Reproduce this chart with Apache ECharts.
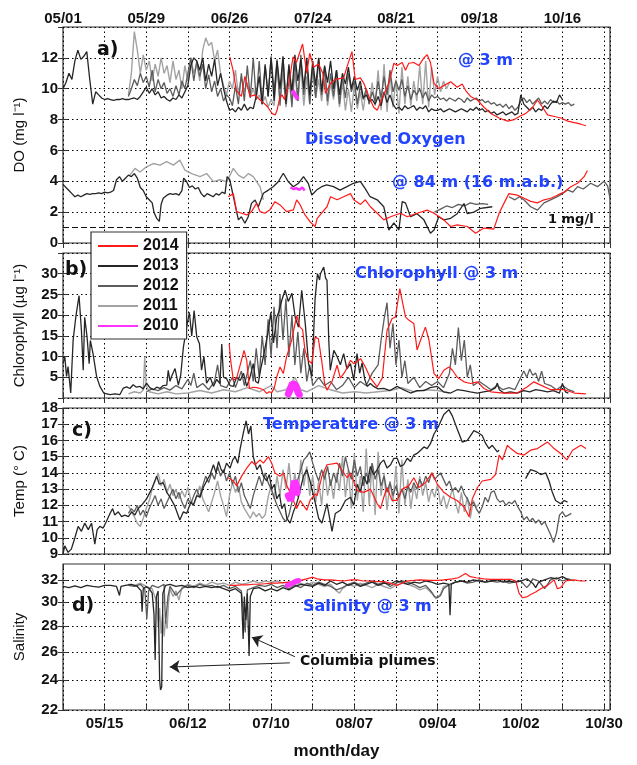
<!DOCTYPE html>
<html><head><meta charset="utf-8">
<script src="https://cdn.jsdelivr.net/npm/echarts@6/dist/echarts.min.js"></script>
<style>html,body{margin:0;padding:0;background:#fff}#c{width:637px;height:765px}</style>
</head><body><div id="c"></div>
<script>
// ---------- tick labels (x = days since May 1) ----------
const topTickDays = [0, 28, 56, 84, 112, 140, 168];
const topTickLabels = ['05/01','05/29','06/26','07/24','08/21','09/18','10/16'];
const bottomTickDays = [14, 42, 70, 98, 126, 154, 182];
const bottomTickLabels = ['05/15','06/12','07/10','08/07','09/04','10/02','10/30'];
const salinityTicks = [22, 24, 26, 28, 30, 32];
const years = ['2014','2013','2012','2011','2010'];

// ---------- a) DO @ 3 m ----------
const do3_2013_start = 0;
const do3_2013 = [10.0,10.4,11.0,10.6,11.8,12.5,11.9,12.1,12.4,10.6,9.0,9.8,9.6,9.4,
 9.3,9.35,9.3,9.25,9.3,9.3,9.35,9.3,9.3,9.35,9.4,9.3,9.5,9.8,
 10.1,9.7,10.0,9.6,9.8,9.4,9.5,9.3,9.2,9.4,9.3,9.6,9.4,9.8,
 10.2,11.5,12.0,11.8,11.2,12.0,10.5,11.6,10.8,11.9,10.2,11.0,10.0,9.2,
 8.6,8.7,8.5,8.8,8.6,9.0,8.6,8.8,8.7,9.5,10.8,9.0,11.5,9.5,
 12.0,9.2,11.8,10.0,12.1,9.0,11.5,9.8,12.2,10.5,11.9,10.0,12.0,9.6,
 11.8,10.2,12.0,9.8,11.5,10.4,11.8,10.0,11.2,9.6,11.0,10.3,11.4,10.0,
 10.8,9.9,10.5,9.4,9.6,9.2,9.3,9.0,9.5,8.9,9.8,9.1,9.6,9.0,
 8.7,8.8,8.6,8.9,8.7,8.8,8.9,8.6,8.8,8.7,8.9,8.5,8.7,8.6,
 8.6,8.7,8.5,8.6,8.7,8.6,8.5,8.6,8.7,8.6,8.5,8.7,8.6,8.8,
 8.6,8.7,8.5,8.6,8.4,8.5,8.3,8.4,8.5,8.3,8.4,8.5,8.3,8.4,
 9.6,9.0,8.8,8.6,8.8,8.5,8.7,8.6,8.9,8.7,9.0,9.2,9.1,9.6,9.3];
const do3_2012_start = 22;
const do3_2012 = [9.5,10.0,10.6,10.2,11.0,10.4,10.8,10.1,11.2,9.8,10.6,10.0,10.4,9.7,
 10.0,9.5,10.2,9.6,10.5,10.0,11.0,12.0,10.5,11.8,10.8,11.6,10.0,10.9,
 9.8,10.5,9.5,10.0,9.2,9.6,9.4,8.9,10.2,9.0,11.0,9.2,11.5,9.4,
 12.0,9.3,11.8,9.0,11.6,9.5,12.1,9.8,11.9,8.9,12.0,9.2,11.6,8.8,
 11.9,9.2,12.2,9.6,11.8,9.0,11.5,9.4,11.9,9.6,11.4,9.2,11.0,9.5,
 11.2,9.0,10.8,9.4,11.0,9.8,10.5,9.0,10.2,9.3,10.0,9.0,9.8,9.2,
 10.5,9.4,10.8,9.6,11.2,9.8,10.5,9.9,10.6,9.5,10.2,9.3,9.9,9.6,
 10.0,9.4,9.8,9.2,9.6,9.4,9.5,9.3,9.4,9.2,9.4,9.3,9.2,9.4,
 9.3,9.1,9.4,9.2,9.3,9.4,9.2,9.3,9.1,9.2,9.0,9.1,8.9,9.0,
 8.8,9.0,8.7,8.9,8.6,8.8,9.2,9.4,9.1,9.3,9.0,9.2,9.4,9.0,
 9.2,9.0,9.3,9.1,9.2,9.0,9.1,9.0,9.1,8.9,9.0];
const do3_2011_start = 22;
const do3_2011 = [9.6,11.0,13.7,12.5,11.0,12.2,11.2,11.8,10.5,11.6,10.8,12.0,11.0,11.5,
 10.4,11.8,10.6,11.2,10.0,11.5,10.5,12.0,11.0,11.6,10.5,12.5,13.3,12.8,
 13.0,11.8,12.5,11.0,10.2,9.6,10.5,10.0,11.2,9.6,10.8,9.8,10.4,9.5,
 10.0,9.3,9.6,9.0,9.5,8.8,9.3,8.9,11.5,9.2,11.0,8.8,10.5,9.0,
 11.0,9.2,11.5,8.9,10.8,9.0,11.2,9.4,10.6,9.2,10.9,8.9,10.4,9.3,
 10.8,8.8,10.5,8.6,10.0,8.5,10.2,8.7,9.8,8.6,10.0,9.0,10.4,8.9,
 11.2,8.6,11.6,8.5,11.0,8.8,10.6,8.4,11.4,9.0,10.8,8.9,10.5,9.2,
 11.5,9.0,11.8,8.8,11.4,9.6,10.8,9.8,10.5,10.0,10.4];
const do3_2014 = [[56.1,12.07],[57.2,11.2],[58.3,9.9],[60,9.5],[61.2,10.8],[62.9,9.5],[64.6,9.6],[66.3,9.27],[67.4,9.1],[68.8,8.83],[70.3,8.4],[71.4,8.3],[72,8.6],[72.9,9.4],[73.7,9.6],[74.5,9.3],[76,10.35],[77.4,12.07],[78.5,11.7],[80.6,12.9],[82,11.0],[83,12.3],[84.3,11.4],[86,11.6],[87.4,11.0],[88.3,9.7],[90,10.35],[91.6,10.6],[94.4,10.7],[95.5,11.4],[97.2,12.4],[98.3,10.6],[100,10.7],[101.2,10.35],[102.9,9.5],[104.5,8.8],[105.7,8.6],[107.4,9.4],[109.6,10.35],[111.3,11.65],[112.4,11.5],[114.1,11.7],[115.2,11.2],[116.3,11.65],[118,11.7],[119.7,11.5],[121.4,12.0],[122.5,12.2],[123.6,11.7],[124.8,10.35],[126.4,10.0],[128.1,10.2],[130.4,10.45],[132.6,10.1],[134.3,10.3],[135.4,9.9],[137.1,9.5],[139.4,9.27],[141.6,8.8],[143.9,8.4],[146.7,8.1],[149.5,7.9],[151.8,8.0],[154,8.25],[155.7,8.4],[158,8.8],[159.6,9.27],[161.3,8.8],[163,8.3],[165.3,8.2],[167.5,8.1],[169.8,7.9],[174.2,7.7],[175.9,7.6]];
const do3_2010 = [[77.2,9.9],[77.8,9.7],[78.4,9.6],[79,9.3]];

// ---------- a) DO @ 84 m ----------
const do84_2013 = [[0,3.8],[1,3.6],[2,3.4],[3,3.2],[4,3.0],[5,3.1],[6,3.0],[7,3.1],[8,3.2],[9,3.15],[10,3.2],[11,3.2],[12,3.25],[13,3.2],[14,3.3],[15,3.25],[16,3.3],[17,3.4],[18,4.1],[19,4.3],[20,4.0],[21,4.2],[22,4.4],[23,4.3],[24,4.5],[25,4.2],[26,3.6],[27,3.4],[28,3.0],[29,2.8],[30,2.6],[30.6,2.0],[31.5,1.6],[32.4,1.4],[33,2.5],[33.7,2.9],[35,3.1],[36,3.2],[37,3.15],[38,3.2],[39,3.1],[40,3.4],[40.6,4.2],[41.5,4.0],[42.5,3.6],[43.5,3.7],[44.5,3.5],[45.5,3.6],[46.5,3.2],[47.5,3.0],[48.5,3.2],[49.5,3.1],[50.5,3.0],[51.5,3.2],[52.5,3.1],[53.5,3.3],[54.5,3.2],[55.2,4.3],[56.1,4.1],[57.8,2.57],[59,1.5],[60,1.7],[61.2,1.28],[62.3,1.7],[63.4,2.57],[64.6,2.79],[65.7,2.35],[67.4,3.22],[69.1,3.43],[70.7,3.65],[72.4,3.97],[74.1,4.52],[75.8,3.97],[77.5,3.65],[79.2,3.87],[80.9,4.3],[82.5,3.87],[83.7,3.11],[85.3,3.43],[87,3.65],[88.7,3.76],[91,3.65],[93.2,3.43],[95.5,3.65],[97.7,3.87],[100,4.0],[101.6,3.54],[103.3,3.0],[105.7,2.8],[107.9,2.35],[109.6,0.84],[111.3,1.3],[113,0.84],[114.1,2.68],[115.2,2.6],[116.9,1.7],[119.1,1.9],[121.4,1.5],[123.6,0.63],[124.8,0.84],[126.4,1.7],[128.1,1.5],[130.4,1.6],[132.6,1.9],[134.9,2.56],[136,1.9],[138.2,2.0],[140.5,2.25],[142.5,2.3],[144.4,2.35]];
const do84_2012a = [[125,2.0],[127,2.2],[129,2.4],[131,2.3],[133,2.5],[135,2.4],[137,2.6],[139,2.5],[141,2.55],[143,2.5]];
const do84_2012b = [[150,3.0],[152,2.8],[153.5,3.0],[155.1,2.79],[157.3,2.35],[159.6,2.13],[161.8,2.6],[164,2.8],[166.3,3.0],[168,3.2],[169.7,3.44],[171.5,3.3],[173.1,3.65],[175,3.5],[177.5,3.87],[179.8,3.65],[182,4.0],[183.2,3.7],[184,2.9]];
const do84_2011 = [[22.5,4.4],[24.2,4.84],[25.9,4.6],[28.1,4.94],[30.4,5.15],[32.6,5.05],[34.9,5.27],[37.1,5.05],[39.3,5.37],[41,4.73],[43.3,4.5],[46.1,4.3],[48.3,4.5],[50.6,3.98],[52.8,4.1],[55.1,3.98],[57.3,4.84],[59,4.4],[60.7,4.2],[62.4,4.5],[64,4.3],[66.3,3.64],[67.4,2.8]];
const do84_2014 = [[55.6,3.0],[57.3,3.2],[58.4,2.03],[60.1,1.93],[61.8,1.82],[63.4,2.03],[65.1,2.57],[66.3,2.03],[67.9,1.93],[69.6,2.15],[71.3,2.68],[73,2.47],[75.2,2.03],[77.5,2.15],[78.6,2.79],[79.7,2.5],[81.4,1.82],[83.1,1.38],[84.8,1.06],[85.5,1.6],[88.8,2.35],[90,3.0],[92.2,2.8],[94.4,3.0],[96.7,3.2],[97.8,2.8],[100.1,2.5],[101.7,2.8],[103.4,2.35],[105.7,1.93],[107.9,1.5],[110.2,1.7],[113.5,1.93],[115.8,1.7],[119.1,1.93],[122.5,2.13],[124.8,1.93],[128.1,1.5],[130.4,1.07],[132.6,1.18],[136,1.07],[138.8,0.63],[141.6,0.97],[144.9,0.9],[146.7,1.93],[148.4,2.6],[150,3.2],[152.8,3.1],[155.1,2.9],[157.3,2.7],[159.6,2.6],[161.8,2.8],[164.1,2.9],[166.3,3.1],[168.6,3.3],[170.8,3.65],[173.1,3.87],[175.3,4.3],[176.4,4.7]];
const do84_2010 = [[76.5,3.6],[77.5,3.5],[78.5,3.55],[79.5,3.45],[80.5,3.6],[81.3,3.4]];
const oneMgLine = 1;

// ---------- b) Chlorophyll @ 3 m ----------
const chl_2013 = [[0,8.3],[0.6,10],[1.2,5.2],[1.7,7.6],[2.6,1.2],[3.4,13.9],[4.3,19.5],[5.4,24.7],[6.2,16.3],[6.8,6.7],[7.3,19.5],[8.1,14.7],[8.8,8.3],[9.2,13.9],[10.1,10.7],[11.3,5.2],[12.4,2.8],[13.7,1.2],[15.8,0.8],[17.5,1.0],[19.1,0.8],[20.3,2.4],[21.4,2.7],[22.5,2.3],[23.6,3.2],[24.7,2.6],[25.9,2.8],[27,2.2],[28.1,3.6],[29.2,2.5],[30.4,2.0],[31.5,2.6],[32.6,2.3],[33.7,3.0],[34.9,3.1],[35.4,6.7],[36,4.0],[36.5,5.2],[37.7,7.1],[38.8,3.1],[39.6,5.5],[40.5,12.3],[41.6,17.1],[42.5,20.7],[43.3,15],[44.1,21.1],[45,14.7],[45.9,13.1],[46.6,6.7],[47.4,10],[48.3,3.6],[49.5,5],[50.6,2.8],[51.7,4.5],[52.8,3.5],[53.4,13],[54,5],[55.1,4.6],[56.2,3],[57.3,2.8],[58.4,5],[59.6,4.2],[60.7,6],[61.8,2.8],[62.9,5],[64,8.3],[64.8,4],[65.7,3.6],[66.5,7],[67.4,10],[68.2,13],[69.1,16.3],[69.9,20.7],[70.8,13.3],[71.9,19.5],[72.7,21],[73.6,23.6],[74.7,26],[75.8,23.3],[77,25.3],[78.1,19.5],[79.2,17.1],[80.3,26],[81.5,17.9],[82.6,8.3],[83.7,5.2],[84.8,24],[85.6,30],[86.3,28.5],[86.6,30],[87.7,31.6],[88.3,29],[88.8,28.4],[89.4,13.9],[89.9,6.7],[91.1,11.5],[92.2,10],[93.3,8],[94.4,10.7],[95.5,7],[96.7,8.3],[97.8,4.3],[98.9,10.7],[99.8,6],[100.6,8.5],[101.5,4.5],[102.3,2.8],[103.4,3.5],[104.5,2.8],[106,2.2],[107.9,2.3],[110,1.8],[112.4,2.8],[114.5,2],[116.9,1.2],[119,1.8],[121.4,1.8],[123.5,2.5],[125.9,2.8],[128,1.5],[130.4,1.2],[132.6,2],[134.9,1.8],[137,1.5],[139.4,1.2],[141.5,1.5],[143.9,1.8],[145.5,2.5],[146.1,3.6],[146.8,2],[148.3,1.2],[150.5,1.5],[152.8,1.2],[155,1.8],[157,1.5],[159,2],[161,1.8],[163,1.5],[165,1.8],[167,1.2],[168,3.5],[169,1.5],[170,1.2]];
const chl_2012 = [[28,1.5],[30,2.2],[32,1.8],[34,2.5],[36,1.9],[38,3],[40,2.2],[42,4.5],[43,3],[44,6],[45,2.5],[47,3.5],[49,2],[51,4],[52,8],[53,3],[55,2.5],[57,5],[58,2.5],[60,6.5],[61,3],[63,9],[64,4],[65,12],[66,5],[67,15],[68,8],[69,19],[70,10],[71,22],[72,12],[73,25],[74,14],[75,24],[76,10],[77,20],[78,8],[79,16],[80,6],[81,12],[82,4],[83,8],[84,3],[86,5],[88,3],[90,4],[92,2],[94,3],[96,5],[98,2.5],[100,4],[102,3],[104,6],[106,8],[107,14],[108,19],[109,23],[110,12],[111,18],[112,8],[113,14],[114,5],[115,9],[116,3.5],[118,5],[120,2.5],[122,4],[124,3],[126,4],[128,2.5],[130,6],[131,12],[132,8],[133,17],[134,9],[135,14],[136,5],[137,8],[138,3],[140,4],[142,3],[144,2],[146,3],[148,2],[150,2.5],[152,2],[154,5],[155,6.5],[156,5],[157,7],[158,5.5],[159,6],[160,4],[161,6.5],[162,3.5],[164,3],[166,2],[168,3],[170,2],[172,1.5]];
const chl_2011 = [[22,1],[24,1.5],[26,1.2],[27,2],[27.5,10],[28,3],[29,1.5],[32,1],[35,1.5],[38,1],[42,1.2],[46,1.8],[50,1.2],[54,2],[58,1.5],[62,2.5],[66,1.5],[70,3],[72,1.5],[75,2],[78,5],[80,2],[82,1.5],[86,3],[90,2],[94,1.2],[98,1.5],[102,1.2],[106,1.5],[110,1.8],[114,2.5],[118,1.5],[122,2],[126,1.8],[130,1.2]];
const chl_2014 = [[55.9,13.1],[56.4,9.1],[57.3,4.3],[58.4,4.8],[59.5,7.7],[60.9,11.5],[61.8,9.1],[62.7,2.3],[64,2.6],[65.2,2.5],[66.3,2.3],[67.4,2.0],[68.5,1.1],[69.3,1.5],[70.2,1.3],[71.1,2.5],[71.9,5.1],[73,7.5],[74.1,5.9],[75.2,9.9],[76.9,13.9],[78.6,19.9],[79.7,17.1],[80.6,16.5],[81.4,11.5],[82.5,9.1],[83.7,8.3],[84.8,14.7],[85.9,14.3],[87,9.1],[88,3.5],[88.8,1.9],[90.5,4],[92.2,7.9],[93.3,4.8],[95,6.5],[96.7,9.1],[97.8,8.3],[99,8.8],[100.1,9.5],[101.7,7.5],[103.4,4.8],[105.7,2.7],[107.4,4.8],[109,16.3],[110.7,19.2],[111.8,19.5],[113.3,26.4],[114.1,23.5],[115.2,19.6],[116.3,18.8],[118,18],[119.1,11.6],[120.3,14],[121.9,17.1],[123.1,14],[124.8,5.9],[126.4,4.7],[128.1,6.7],[129.8,7.5],[131,6.7],[132.6,5],[134.9,3.9],[137.1,3.5],[139.4,3.9],[141.6,2.3],[143.9,1.5],[148.4,1.2],[152.8,1.2],[156.2,2.7],[158.4,3.9],[160.7,3.1],[164.1,2.0],[168.6,2.0],[172,1.2],[175.9,1.0]];
const chl_2010 = [[75.8,1],[76.5,2.2],[77.2,3.6],[77.8,4],[78.3,3],[79,1.5],[79.5,0.8]];

// ---------- c) Temperature @ 3 m ----------
const temp_2013 = [[0,9.0],[0.6,9.5],[1.7,9.1],[2.8,9.3],[4,10.0],[5.1,10.7],[6.2,10.4],[7.3,10.9],[8.5,10.5],[9.6,10.9],[10.7,9.6],[11.5,10.5],[12.4,10.7],[13.5,10.6],[14.6,11.0],[15.8,11.5],[16.7,11.8],[17.4,11.4],[18.6,11.6],[19.7,11.3],[20.8,11.4],[22,11.3],[23.1,11.6],[24.2,11.4],[25.3,11.8],[26.4,12.0],[28.1,12.4],[29.8,13.0],[31.5,13.8],[32.4,13.3],[33.7,13.4],[34.9,12.8],[36,12.5],[37.5,12.0],[39.3,11.1],[40.5,11.6],[41.6,11.5],[43,12.2],[43.8,12.0],[45,12.6],[46.1,12.5],[47.2,13.1],[48.3,13.5],[49.5,13.9],[50.6,14.5],[51.5,14.0],[52.3,14.7],[53.2,14.2],[54,14.0],[55,14.6],[56.2,14.3],[57.1,14.8],[57.9,15.0],[58.8,14.6],[59.6,15.5],[60.7,16.5],[61.6,17.2],[62.4,16.4],[63.2,16.9],[64,15.0],[65.2,14.2],[66.3,14.5],[67.4,13.8],[68.5,13.5],[69.4,13.9],[70.2,13.0],[71.1,13.3],[71.9,12.4],[72.8,12.7],[73.6,11.8],[74.5,12.1],[75.3,11.2],[76.4,10.9],[77.5,11.6],[78.4,12.0],[79.2,12.5],[80.1,13.2],[80.9,13.8],[82,14.2],[83.1,13.5],[84,12.8],[84.8,12.2],[86,11.2],[87.1,10.9],[88.8,12.1],[90.5,10.4],[91.6,11.5],[93.3,11.7],[95,12.3],[96.7,12.5],[97.8,12.0],[99,13.3],[100,12.8],[101.2,13.8],[102.3,13.3],[103.4,14.4],[104.5,13.9],[105.7,14.2],[106.8,14.6],[107.9,14.8],[109,14.3],[110.2,14.5],[111.3,14.9],[112.4,14.9],[113.5,14.4],[114.6,14.5],[115.8,14.9],[116.9,14.7],[118,15.1],[119.1,15.2],[120.3,15.4],[121.4,15.6],[122.5,15.5],[123.6,15.8],[124.8,16.4],[126.4,16.9],[128.1,17.6],[129.8,17.9],[131,17.5],[132.6,16.7],[134.3,15.9],[136,16.0],[137.1,16.3],[138.2,16.6],[139.4,16.5],[141,16.3],[142.2,15.8],[143.3,15.5],[144.4,15.7],[146.1,15.3],[146.7,15.4]];
const temp_2013b = [[155.6,13.65],[157.3,14.2],[159,14.1],[160.7,13.9],[162.4,14.0],[163.5,13.5],[164.6,12.8],[165.7,12.3],[167.4,12.1],[168.6,12.3],[169.7,12.2]];
const temp_2012_start = 22;
const temp_2012 = [11.5,11.8,11.6,12.0,11.4,11.7,11.3,11.8,12.2,12.6,12.0,12.4,11.8,12.2,
 12.6,13.0,12.4,12.8,12.2,11.8,12.4,12.1,12.6,13.0,12.5,13.2,13.8,13.4,
 14.0,13.6,14.4,13.8,14.2,13.5,14.0,13.3,13.8,12.8,13.4,12.6,12.2,11.8,
 12.6,13.2,13.8,13.2,14.0,13.4,13.0,12.5,12.0,11.6,11.2,11.0,11.4,12.2,
 12.8,13.6,14.2,14.8,15.0,15.3,14.6,14.0,13.5,14.2,13.6,14.4,13.2,14.0,
 13.4,14.6,13.8,15.0,14.2,13.6,14.8,13.8,14.4,13.2,14.0,13.4,14.6,13.6,
 14.2,13.2,13.8,12.8,13.4,12.6,13.2,12.5,13.0,12.4,13.2,12.8,13.4,13.0,
 13.6,13.2,13.8,13.4,14.0,13.6,13.8,14.0,13.6,13.2,13.5,12.9,13.1,12.8,
 13.2,12.7,12.4,12.0,12.2,11.8,11.5,11.9,12.5,12.2,12.8,12.9,12.4,12.2,
 12.3,12.0,12.2,12.1,12.3,11.9,11.6,11.1,11.3,11.0,11.2,10.9,11.1,10.8,
 11.0,10.6,10.2,9.7,10.3,11.4,11.6,11.3,11.4,11.5];
const temp_2011_start = 22;
const temp_2011 = [12.0,11.6,11.3,10.9,10.7,11.2,11.8,12.3,13.0,13.5,14.0,13.2,13.6,12.8,
 13.3,12.6,13.0,12.4,12.9,12.5,13.1,12.3,12.0,12.6,13.2,12.4,12.0,11.6,
 12.2,12.8,13.5,12.6,12.0,11.3,12.6,13.4,12.8,13.2,12.2,11.8,11.5,11.2,
 11.6,11.3,11.5,11.2,11.4,12.5,13.2,12.4,13.8,12.6,14.2,13.0,14.6,12.8,
 14.0,12.5,14.8,13.2,14.4,12.6,13.8,12.2,13.5,12.0,14.2,12.6,13.6,12.4,
 14.0,12.9,15.0,12.5,14.2,11.8,15.2,12.3,13.8,11.6,15.5,12.0,14.6,11.4,
 15.3,12.6,14.0,11.7,13.5,12.2,14.4,11.5,14.8,12.0,13.6,11.8,13.2,12.4,
 13.8,12.6,13.4,12.2,13.0,12.5,13.3,12.0,12.6,11.8,12.4,13.0,12.2,11.5,
 12.8,11.6,12.5,11.2,12.3,11.9,12.1];
const temp_2014 = [[55.6,13.7],[57.3,13.5],[58.4,13.2],[60.1,13.8],[61.8,14.3],[63.5,14.7],[64.6,14.5],[66.3,14.8],[67.4,14.6],[69.1,15.0],[70.2,14.6],[71.3,14.0],[73,13.8],[74.2,14.0],[75.3,13.2],[76.4,12.8],[77.5,12.3],[78.6,11.8],[79.8,12.3],[80.9,12.0],[82,11.7],[83.1,12.3],[84.8,12.7],[85.5,12.6],[87.1,13.8],[88.8,14.5],[92.2,14.6],[93.3,14.3],[95.6,13.7],[96.7,14.0],[99,12.9],[101.2,12.8],[103.4,13.0],[105.7,12.1],[106.8,11.8],[107.9,12.5],[109,13.1],[110.7,12.3],[112.4,12.3],[114.1,13.0],[116.3,13.2],[118,13.7],[119.7,13.1],[121.9,13.4],[124.2,14.0],[125.9,13.3],[128.1,12.8],[130.4,12.5],[132.6,12.3],[134.9,11.9],[136.6,11.3],[137.7,12.4],[139.4,13.1],[141,13.5],[143.9,13.6],[145.5,13.9],[146.7,15.1],[147.8,14.8],[149.5,15.7],[150.6,15.5],[152.8,15.2],[155.1,15.1],[157.3,15.4],[159.6,15.5],[163,15.9],[165.2,15.5],[167.4,15.2],[169.5,14.8],[171.4,15.4],[174.2,15.7],[175.9,15.5]];
const temp_2010 = [[75.8,12.6],[76.6,12.3],[77.2,12.8],[77.8,13.5],[78.4,13.3],[78.8,12.8]];

// ---------- d) Salinity @ 3 m ----------
const sal_2013 = [[0,31.4],[2,31.3],[4,31.45],[6,31.3],[8,31.5],[10,31.4],[12,31.35],[14,31.5],[16,31.5],[18,31.4],[19,30.6],[19.5,31.4],[21,31.5],[23,31.6],[25,31.4],[26.3,31.0],[26.6,29.2],[27,31.2],[28,31.4],[29,31.2],[30,30.8],[30.6,29.0],[31,25.4],[31.4,30.5],[32,31.0],[32.5,24.0],[32.8,23.3],[33.2,23.5],[33.6,30.8],[34.5,31.5],[36,31.6],[38,31.4],[40,31.5],[42,31.3],[44,31.4],[46,31.3],[48,31.4],[50,31.3],[52,31.4],[54,31.2],[56,31.0],[58,31.2],[60,30.8],[60.6,27.0],[61,30.5],[61.5,28.5],[62,30.8],[62.6,25.7],[63,30.5],[64,31.2],[66,31.3],[68,31.0],[70,31.2],[72,31.0],[74,31.3],[76,31.1],[78,31.4],[80,31.6],[82,31.5],[84,31.4],[86,31.7],[88,31.5],[90,31.9],[92,31.6],[94,31.8],[96,31.5],[98,31.7],[100,31.4],[102,31.6],[104,31.8],[106,31.5],[108,31.7],[110,31.6],[112,31.9],[114,31.8],[116,31.6],[118,31.8],[120,31.7],[122,31.9],[124,31.8],[126,31.6],[128,31.7],[129.8,31.6],[130.2,28.9],[130.6,31.6],[132,31.8],[134,31.9],[136,31.8],[138,32.0],[140,31.9],[142,31.8],[144,31.9],[146,32.0],[148,31.8],[150,31.9],[152,31.8],[154,31.9],[156,32.1],[158,31.7],[159,31.3],[160,31.8],[162,32.0],[164,32.2],[166,32.1],[168,32.3],[170,32.0]];
const sal_2012 = [[22,31.5],[24,31.4],[26,31.6],[27.5,31.2],[28.2,28.6],[28.8,31.0],[30,31.5],[32,31.3],[34,31.6],[34.5,28.2],[35.3,30.5],[36,31.4],[38,30.6],[40,31.2],[42,31.5],[44,31.3],[46,31.6],[48,31.4],[50,31.5],[52,31.3],[54,31.5],[56,31.2],[58,31.4],[60,31.0],[61.3,27.5],[62,31.1],[64,31.3],[66,31.5],[68,31.4],[70,31.6],[72,31.3],[74,31.5],[76,31.2],[78,31.5],[80,31.3],[82,31.7],[84,31.5],[86,31.8],[88,31.6],[90,31.4],[92,31.1],[94,31.3],[96,31.6],[98,31.8],[100,31.5],[102,31.7],[104,31.9],[106,31.6],[108,31.8],[110,31.4],[112,31.7],[114,31.9],[116,31.8],[118,31.6],[120,31.3],[122,31.5],[124,30.9],[125,30.5],[126,30.4],[127,30.6],[128,31.2],[130,31.6],[132,31.8],[134,31.9],[136,31.7],[138,31.8],[140,32.0],[142,31.8],[144,31.9],[146,31.8],[148,31.9],[150,31.7],[152,31.8],[154,31.9],[156,31.3],[157,31.6],[158,32.1],[160,31.9],[162,31.2],[163,31.6],[164,32.0],[166,32.2],[168,31.9],[170,32.1],[172,31.9]];
const sal_2011 = [[22,31.6],[24,31.5],[26,31.7],[28,31.4],[30,31.2],[31.5,30.0],[32,28.0],[32.5,29.5],[33,27.4],[33.5,29.0],[34,27.2],[34.5,28.5],[35,27.8],[35.5,30.0],[36,31.2],[37,30.5],[38,31.0],[39,30.2],[40,31.3],[42,31.6],[44,31.4],[46,31.7],[48,31.5],[50,31.8],[52,31.6],[54,31.7],[56,31.5],[58,31.8],[60,31.6],[62,31.7],[64,31.9],[66,31.7],[68,31.9],[70,31.8],[72,31.9],[74,31.7],[76,31.8],[78,31.6],[80,31.7],[82,31.5],[84,31.8],[86,31.6],[88,31.4],[90,31.6],[92,31.0],[93,30.8],[94,31.2],[96,31.6],[98,31.4],[100,31.7],[102,31.5],[104,31.3],[106,31.6],[108,31.4],[110,31.2],[112,31.5],[114,31.7],[116,31.6],[118,31.4],[120,31.1],[122,31.3],[124,30.8],[125.5,30.3],[127,30.7],[128,31.4],[130,31.5]];
const sal_2014 = [[56,31.5],[58,31.5],[60,31.55],[62,31.55],[64,31.6],[66,31.6],[68,31.65],[70,31.7],[72,31.7],[74,31.75],[76,31.8],[78,31.85],[80,31.95],[82,32.1],[84,32.25],[85.5,32.1],[88,32.0],[90,32.0],[92,31.95],[94.4,31.9],[97,32.0],[99,32.0],[101,31.9],[103.4,31.9],[106,31.85],[108,31.85],[110,31.7],[112.4,31.5],[114,31.7],[115.8,31.9],[118,31.95],[120,32.0],[123.6,31.95],[126,31.95],[128,32.0],[131,32.1],[133,32.2],[135.4,32.6],[137,32.3],[139,32.2],[141.6,32.1],[144,32.05],[146,32.05],[148,32.05],[150.6,32.05],[152.3,31.9],[153.4,30.8],[154.5,30.4],[156.2,30.5],[157.5,30.7],[159,30.9],[160.7,31.2],[163,31.5],[165.2,32.0],[166.3,31.2],[167.4,31.3],[169.1,31.9],[171.9,32.0],[174,31.9],[175.9,31.9]];
const sal_2010 = [[75.5,31.5],[76.5,31.6],[77.5,31.75],[78.5,31.9],[79.3,31.95]];
const plumeArrows = [[[78,25.65],[63.5,27.13]], [[76.3,25.2],[35.9,24.9]]];

// ---------- styling ----------
const COL = {'2014':'#ff1a1a','2013':'#262626','2012':'#5c5c5c','2011':'#a3a3a3','2010':'#ff33ff'};
const W = {'2014':1.2,'2013':1.3,'2012':1.3,'2011':1.4,'2010':4};
const tickFont = {fontFamily:'Liberation Sans', fontWeight:'bold', fontSize:15, color:'#111'};
const blue = '#2244ff';

function daily(start, arr){ return arr.map((v,i)=>[start+i, v]); }
function line(year, data, g, extra){
  return Object.assign({type:'line', name:year, data:data, xAxisIndex:g*2, yAxisIndex:g*2,
    showSymbol:false, symbol:'none', color:COL[year], silent:true, animation:false,
    lineStyle:{color:COL[year], width:W[year]}, z: year==='2014'?5:(year==='2010'?6:(year==='2013'?4:(year==='2012'?3:2)))}, extra||{});
}

const grids = [
  {left:63, top:27, width:547, height:216},
  {left:63, top:253, width:547, height:145},
  {left:63, top:408, width:547, height:146},
  {left:63, top:564, width:547, height:146}
].map(g=>Object.assign(g,{show:true, borderColor:'#333', borderWidth:1.2, backgroundColor:'#fff', containLabel:false, outerBoundsMode:'none'}));

const xAxes = [];
for (let g=0; g<4; g++){
  const mainPos = g===0 ? 'top' : 'bottom';
  const mirPos = g===0 ? 'bottom' : 'top';
  const main = {gridIndex:g, type:'value', min:0, max:184, interval:14, position:mainPos,
    axisLine:{show:false}, axisTick:{show:true, inside:true, length:5, lineStyle:{color:'#333'}},
    splitLine:{show:true, lineStyle:{color:'#000', type:[1.5,3], width:1}},
    axisLabel:{show:false}};
  if (g===0){
    main.axisLabel = Object.assign({show:true, margin:1, customValues:topTickDays,
      formatter:v=>{const i=topTickDays.indexOf(v); return i>=0?topTickLabels[i]:'';}}, tickFont);
  }
  if (g===3){
    main.axisLabel = Object.assign({show:true, margin:6, customValues:bottomTickDays,
      formatter:v=>{const i=bottomTickDays.indexOf(v); return i>=0?bottomTickLabels[i]:'';}}, tickFont);
    main.name = 'month/day'; main.nameLocation='middle'; main.nameGap=33;
    main.nameTextStyle = {fontFamily:'Liberation Sans', fontWeight:'bold', fontSize:17, color:'#111'};
  }
  const mir = {gridIndex:g, type:'value', min:0, max:184, interval:14, position:mirPos,
    axisLine:{show:false}, axisTick:{show:true, inside:true, length:5, lineStyle:{color:'#333'}},
    splitLine:{show:false}, axisLabel:{show:false}};
  xAxes.push(main, mir);
}

const yNames = ['DO (mg l\u207B\u00B9)', 'Chlorophyll (\u00B5g l\u207B\u00B9)', 'Temp (\u00B0 C)', 'Salinity'];
const ySpecs = [
  {min:0, max:14, interval:2, showMin:true, showMax:false},
  {min:0, max:35, interval:5, showMin:false, showMax:false},
  {min:9, max:18, interval:1, showMin:true, showMax:true},
  null
];
const yAxes = [];
for (let g=0; g<4; g++){
  const nameStyle = {fontFamily:'Liberation Sans', fontSize:15, color:'#111'};
  let main, mir;
  if (g<3){
    const s = ySpecs[g];
    main = {gridIndex:g, type:'value', min:s.min, max:s.max, interval:s.interval, position:'left',
      axisLine:{show:false}, axisTick:{show:true, inside:true, length:5, lineStyle:{color:'#333'}},
      splitLine:{show:true, lineStyle:{color:'#000', type:[1.5,3], width:1}},
      axisLabel:Object.assign({margin:5, showMinLabel:s.showMin, showMaxLabel:s.showMax}, tickFont)};
    mir = {gridIndex:g, type:'value', min:s.min, max:s.max, interval:s.interval, position:'right',
      axisLine:{show:false}, axisTick:{show:true, inside:true, length:5, lineStyle:{color:'#333'}},
      splitLine:{show:false}, axisLabel:{show:false}};
  } else {
    main = {gridIndex:g, type:'log', logBase:10, min:22, max:33.5, position:'left',
      axisLine:{show:false}, axisTick:{show:true, inside:true, length:5, customValues:salinityTicks, lineStyle:{color:'#333'}},
      splitLine:{show:true, lineStyle:{color:'#000', type:[1.5,3], width:1}},
      axisLabel:Object.assign({margin:5, customValues:salinityTicks, formatter:v=>String(Math.round(v))}, tickFont)};
    mir = {gridIndex:g, type:'log', logBase:10, min:22, max:33.5, position:'right',
      axisLine:{show:false}, axisTick:{show:true, inside:true, length:5, customValues:salinityTicks, lineStyle:{color:'#333'}},
      splitLine:{show:false}, axisLabel:{show:false}};
  }
  main.name = yNames[g]; main.nameLocation='middle'; main.nameGap=36; main.nameRotate=90;
  main.nameTextStyle = nameStyle;
  yAxes.push(main, mir);
}

const series = [
  // a) DO
  line('2011', daily(do3_2011_start, do3_2011), 0),
  line('2011', do84_2011, 0),
  line('2012', daily(do3_2012_start, do3_2012), 0),
  line('2012', do84_2012a, 0),
  line('2012', do84_2012b, 0),
  line('2013', daily(do3_2013_start, do3_2013), 0),
  line('2013', do84_2013, 0, {markLine:{silent:true, symbol:['none','none'], label:{show:false},
    lineStyle:{color:'#111', type:[6,3], width:1}, data:[{yAxis:oneMgLine}], animation:false}}),
  line('2014', do3_2014, 0),
  line('2014', do84_2014, 0),
  line('2010', do3_2010, 0),
  line('2010', do84_2010, 0, {lineStyle:{color:COL['2010'], width:2.5}}),
  // b) Chlorophyll
  line('2011', chl_2011, 1),
  line('2012', chl_2012, 1),
  line('2013', chl_2013, 1),
  line('2014', chl_2014, 1),
  line('2010', chl_2010, 1, {lineStyle:{color:COL['2010'], width:7, cap:'round'}}),
  // c) Temperature
  line('2011', daily(temp_2011_start, temp_2011), 2),
  line('2012', daily(temp_2012_start, temp_2012), 2),
  line('2013', temp_2013, 2),
  line('2013', temp_2013b, 2),
  line('2014', temp_2014, 2),
  line('2010', temp_2010, 2, {lineStyle:{color:COL['2010'], width:7, cap:'round'}}),
  // d) Salinity
  line('2011', sal_2011, 3),
  line('2012', sal_2012, 3),
  line('2013', sal_2013, 3, {markLine:{silent:true, symbol:['none','arrow'], symbolSize:10, label:{show:false},
    lineStyle:{color:'#222', type:'solid', width:1}, animation:false,
    data: plumeArrows.map(a=>[{coord:a[0]},{coord:a[1]}])}}),
  line('2014', sal_2014, 3),
  line('2010', sal_2010, 3, {lineStyle:{color:COL['2010'], width:5, cap:'round'}})
];

function txt(x, y, s, color, font){
  return {type:'text', x:x, y:y, z:50, silent:true,
    style:{text:s, fill:color, font:font, align:'left', verticalAlign:'middle'}};
}
const bf = 'bold 16px "DejaVu Sans"';
const graphics = [
  txt(458, 61, '@ 3 m', blue, bf),
  txt(305, 140, 'Dissolved Oxygen', blue, bf),
  txt(392, 183, '@ 84 m (16 m.a.b.)', blue, bf),
  txt(548, 220, '1 mg/l', '#111', 'bold 13px "DejaVu Sans"'),
  txt(355, 274, 'Chlorophyll @ 3 m', blue, bf),
  txt(263, 425, 'Temperature @ 3 m', blue, bf),
  txt(303, 607, 'Salinity @ 3 m', blue, bf),
  txt(300, 661, 'Columbia plumes', '#111', 'bold 14px "DejaVu Sans"'),
  txt(97, 50, 'a)', '#111', 'bold 19px "DejaVu Sans"'),
  txt(65, 270, 'b)', '#111', 'bold 19px "DejaVu Sans"'),
  txt(72, 431, 'c)', '#111', 'bold 19px "DejaVu Sans"'),
  txt(72, 606, 'd)', '#111', 'bold 19px "DejaVu Sans"')
];

const chart = echarts.init(document.getElementById('c'), null, {renderer:'canvas'});
chart.setOption({
  animation:false,
  backgroundColor:'#fff',
  grid: grids,
  xAxis: xAxes,
  yAxis: yAxes,
  legend:{show:true, data:years, orient:'vertical', left:91, top:232, itemWidth:40, itemHeight:2, itemGap:2,
    icon:'rect', padding:[5,8,4,7], backgroundColor:'#fff', borderColor:'#333', borderWidth:1.2,
    selectedMode:false, z:20,
    textStyle:{fontFamily:'Liberation Sans', fontWeight:'bold', fontSize:16, color:'#111', lineHeight:18}},
  series: series,
  graphic: graphics
});
</script></body></html>
